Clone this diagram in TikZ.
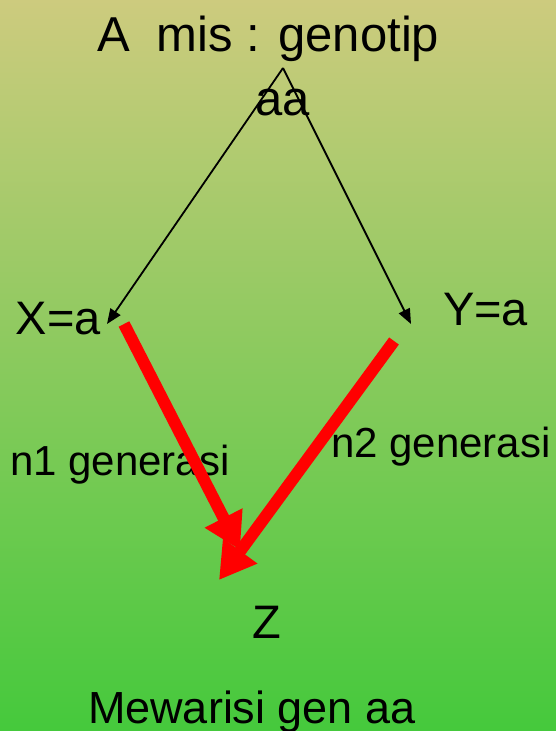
\documentclass[tikz,border=0pt]{standalone}
\usepackage{fontspec}
\setmainfont{Liberation Sans}
\usetikzlibrary{arrows.meta}
\definecolor{bgtop}{RGB}{205,203,126}
\definecolor{bgbot}{RGB}{69,201,60}
\begin{document}
\begin{tikzpicture}[x=1pt,y=-1pt,
  lbl/.style={anchor=base west,inner sep=0pt,outer sep=0pt,text=black},
  thin/.style={draw=black,line width=1.8pt,-{Triangle[length=15pt,width=12pt]}},
  thick/.style={draw=red,line width=12pt,-{Triangle[length=36pt,width=40pt]}}]
\shade[top color=bgtop,bottom color=bgbot] (0,0) rectangle (556,731);
\useasboundingbox (0,0) rectangle (556,731);
\node[lbl,font=\fontsize{49}{56}\selectfont] (t1) at (97,51) {A~~mis : genotip};
\node[lbl,font=\fontsize{49}{56}\selectfont] (t2) at (255,115) {aa};
\node[lbl,font=\fontsize{47}{56}\selectfont] (X) at (16,334) {X=a};
\node[lbl,font=\fontsize{47}{56}\selectfont] (Y) at (443,325) {Y=a};
\node[lbl,font=\fontsize{42}{50}\selectfont] (n1) at (10,475) {n1 generasi};
\node[lbl,font=\fontsize{42}{50}\selectfont] (n2) at (331,457) {n2 generasi};
\node[lbl,font=\fontsize{47}{56}\selectfont] (Z) at (252,638) {Z};
\node[lbl,font=\fontsize{45}{54}\selectfont] (M) at (88,723) {Mewarisi gen aa};
\coordinate (apex) at (283,68);
\coordinate (xin) at (107,324);
\coordinate (yin) at (411,324);
\coordinate (xout) at (124,324);
\coordinate (yout) at (394,341);
\coordinate (zl) at (240,550);
\coordinate (zr) at (219,580);
\draw[thin] (apex) -- (xin);
\draw[thin] (apex) -- (yin);
\draw[thick] (xout) -- (zl);
\draw[thick] (yout) -- (zr);
\end{tikzpicture}
\end{document}
